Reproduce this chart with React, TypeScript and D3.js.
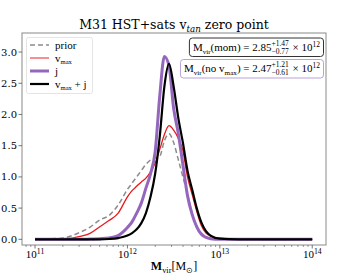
import React, { useEffect, useRef } from 'react';
import * as d3 from 'd3';

// log10(M_vir / M_sun) grid and the four density curves
const logMass = [11.0, 11.3, 11.4, 11.5, 11.6, 11.7, 11.8, 11.9, 12.0, 12.05, 12.1, 12.15, 12.2, 12.25, 12.3, 12.35, 12.4, 12.45, 12.5, 12.55, 12.6, 12.65, 12.7, 12.75, 12.8, 12.85, 12.9, 13.0, 13.2, 14.0];
const prior = [0, 0.02, 0.06, 0.12, 0.2, 0.31, 0.38, 0.55, 0.8, 0.9, 1.0, 1.1, 1.2, 1.27, 1.3, 1.33, 1.58, 1.69, 1.55, 1.28, 1.0, 0.72, 0.42, 0.22, 0.1, 0.04, 0.02, 0.01, 0, 0];
const vmax = [0, 0.01, 0.02, 0.05, 0.1, 0.2, 0.3, 0.42, 0.68, 0.78, 0.85, 0.92, 0.98, 1.08, 1.22, 1.44, 1.68, 1.82, 1.75, 1.62, 1.42, 1.0, 0.72, 0.45, 0.22, 0.1, 0.05, 0.02, 0, 0];
const jOnly = [0, 0, 0, 0, 0.005, 0.01, 0.02, 0.06, 0.19, 0.28, 0.42, 0.58, 0.82, 1.05, 1.4, 2.3, 2.93, 2.78, 2.1, 1.7, 1.2, 0.7, 0.4, 0.2, 0.08, 0.03, 0.01, 0, 0, 0];
const vmaxJ = [0, 0, 0, 0, 0, 0, 0.005, 0.02, 0.06, 0.1, 0.16, 0.26, 0.42, 0.68, 1.05, 1.65, 2.45, 2.81, 2.45, 1.95, 1.55, 1.1, 0.8, 0.5, 0.27, 0.13, 0.06, 0.01, 0, 0];

const yTicks = [0, 0.5, 1.0, 1.5, 2.0, 2.5, 3.0];
const xTickExps = [11, 12, 13, 14];

const SERIF = '"DejaVu Serif", serif';
const MATH = '"Liberation Serif", "Times New Roman", serif';

function App() {
  const ref = useRef(null);

  useEffect(() => {
    draw();
  }, []);

  // draws a run of text pieces left to right, measuring each one; returns width
  const mathRun = (g, x, y, parts, size, font) => {
    let cx = x;
    parts.forEach((p) => {
      if (p.stack) {
        const a = g.append('text').attr('x', cx).attr('y', y - size * 0.42)
          .attr('font-size', size * 0.68).attr('font-family', font).text(p.stack[0]);
        const b = g.append('text').attr('x', cx).attr('y', y + size * 0.28)
          .attr('font-size', size * 0.68).attr('font-family', font).text(p.stack[1]);
        cx += Math.max(a.node().getComputedTextLength(), b.node().getComputedTextLength()) + 1;
      } else {
        const t = g.append('text').attr('x', cx).attr('y', y + (p.dy || 0) * size)
          .attr('font-size', size * (p.scale || 1)).attr('font-family', font)
          .attr('font-style', p.italic ? 'italic' : null)
          .attr('font-weight', p.bold ? 'bold' : null)
          .attr('xml:space', 'preserve')
          .style('white-space', 'pre')
          .text(p.t);
        cx += t.node().getComputedTextLength();
      }
    });
    return cx - x;
  };

  const draw = () => {
    const svg = d3.select(ref.current);
    svg.selectAll('*').remove();

    const left = 22, right = 326, top = 33, bottom = 245;
    const x = d3.scaleLog().domain([10 ** 10.859, 10 ** 14.149]).range([left, right]);
    const y = d3.scaleLinear().domain([-0.091, 3.305]).range([bottom, top]);

    const series = [
      { data: prior, color: '#8c8c8c', width: 1.5, dash: '5,3' },
      { data: vmax, color: '#e8191c', width: 1.3, dash: null },
      { data: jOnly, color: '#9467bd', width: 3, dash: null },
      { data: vmaxJ, color: '#000000', width: 2.2, dash: null },
    ];

    const line = d3.line()
      .x((d) => x(10 ** d[0]))
      .y((d) => y(d[1]))
      .curve(d3.curveMonotoneX);

    const plot = svg.append('g');
    plot.append('defs').append('clipPath').attr('id', 'clip')
      .append('rect').attr('x', left).attr('y', top).attr('width', right - left).attr('height', bottom - top);

    series.forEach((s) => {
      plot.append('path')
        .attr('d', line(logMass.map((m, i) => [m, s.data[i]])))
        .attr('fill', 'none')
        .attr('stroke', s.color)
        .attr('stroke-width', s.width)
        .attr('stroke-dasharray', s.dash)
        .attr('stroke-linejoin', 'round')
        .attr('clip-path', 'url(#clip)');
    });

    // frame
    svg.append('rect')
      .attr('x', left).attr('y', top).attr('width', right - left).attr('height', bottom - top)
      .attr('fill', 'none').attr('stroke', '#8a8a8a').attr('stroke-width', 1);

    // y ticks
    yTicks.forEach((v) => {
      svg.append('line').attr('x1', left - 3.5).attr('x2', left).attr('y1', y(v)).attr('y2', y(v))
        .attr('stroke', '#555').attr('stroke-width', 0.8);
      svg.append('text').attr('x', left - 5).attr('y', y(v) + 3.5)
        .attr('text-anchor', 'end').attr('font-size', 10).attr('font-family', SERIF)
        .text(v.toFixed(1));
    });

    // x ticks (major + log minor)
    xTickExps.forEach((e) => {
      svg.append('line').attr('x1', x(10 ** e)).attr('x2', x(10 ** e)).attr('y1', bottom).attr('y2', bottom + 3.5)
        .attr('stroke', '#555').attr('stroke-width', 0.8);
      const g = svg.append('g');
      const w = mathRun(g, 0, 0, [{ t: '10' }, { t: String(e), scale: 0.7, dy: -0.4 }], 11, MATH);
      g.attr('transform', `translate(${x(10 ** e) - w / 2},${bottom + 13})`);
    });
    d3.range(10, 15).forEach((e) => {
      d3.range(2, 10).forEach((k) => {
        const xv = x(k * 10 ** e);
        if (xv < left || xv > right) return;
        svg.append('line').attr('x1', xv).attr('x2', xv).attr('y1', bottom).attr('y2', bottom + 2)
          .attr('stroke', '#555').attr('stroke-width', 0.6);
      });
    });

    // title
    const tg = svg.append('g');
    const tw = mathRun(tg, 0, 0, [
      { t: 'M31 HST+sats v' },
      { t: 'tan', scale: 0.7, dy: 0.25, italic: true },
      { t: ' zero point' },
    ], 12.5, SERIF);
    tg.attr('transform', `translate(${(left + right) / 2 - tw / 2},29)`);

    // x label
    const xg = svg.append('g');
    const xw = mathRun(xg, 0, 0, [
      { t: 'M', bold: true },
      { t: 'vir', scale: 0.7, dy: 0.25 },
      { t: '[M' },
      { t: '\u2299', scale: 0.7, dy: 0.25 },
      { t: ']' },
    ], 12, MATH);
    xg.attr('transform', `translate(${(left + right) / 2 - xw / 2},270)`);

    // legend
    const lg = svg.append('g');
    lg.append('rect').attr('x', 26.5).attr('y', 37.5).attr('width', 66).attr('height', 56).attr('rx', 2)
      .attr('fill', 'white').attr('stroke', '#ddd').attr('stroke-width', 0.8);
    const legendLabels = [
      [{ t: 'prior' }],
      [{ t: 'v' }, { t: 'max', scale: 0.6, dy: 0.25 }],
      [{ t: 'j' }],
      [{ t: 'v' }, { t: 'max', scale: 0.6, dy: 0.25 }, { t: ' + j' }],
    ];
    series.forEach((s, i) => {
      const ly = 45 + i * 13;
      lg.append('line').attr('x1', 30).attr('x2', 49).attr('y1', ly).attr('y2', ly)
        .attr('stroke', s.color).attr('stroke-width', s.width).attr('stroke-dasharray', s.dash)
        .attr('stroke-opacity', i === 1 ? 0.75 : 1);
      mathRun(lg, 55, ly + 3.5, legendLabels[i], 11, MATH);
    });

    // annotation boxes, right-aligned to the frame
    const boxes = [
      { parts: [{ t: 'M' }, { t: 'vir', scale: 0.65, dy: 0.25 }, { t: '(mom) = 2.85' },
        { stack: ['+1.47', '\u22120.77'] }, { t: ' \u00d7 10' }, { t: '12', scale: 0.68, dy: -0.4 }],
        y: 51, stroke: '#333', bt: 38, bh: 18.5 },
      { parts: [{ t: 'M' }, { t: 'vir', scale: 0.65, dy: 0.25 }, { t: '(no v' }, { t: 'max', scale: 0.65, dy: 0.25 },
        { t: ') = 2.47' }, { stack: ['+1.21', '\u22120.61'] }, { t: ' \u00d7 10' }, { t: '12', scale: 0.68, dy: -0.4 }],
        y: 72, stroke: '#b7a2d9', bt: 59.5, bh: 18.5 },
    ];
    boxes.forEach((b) => {
      const g = svg.append('g');
      const rect = g.append('rect');
      const txt = g.append('g');
      const w = mathRun(txt, 0, 0, b.parts, 11, MATH);
      txt.attr('transform', `translate(${323.5 - 3.5 - w},${b.y})`);
      rect.attr('x', 323.5 - w - 7).attr('y', b.bt).attr('width', w + 7).attr('height', b.bh)
        .attr('rx', 3).attr('fill', 'white').attr('stroke', b.stroke).attr('stroke-width', 1);
    });
  };

  return (
    <svg
      ref={ref}
      width={356}
      height={276}
      style={{ position: 'absolute', left: 0, top: 0, background: 'white' }}
    />
  );
}

export default App;
